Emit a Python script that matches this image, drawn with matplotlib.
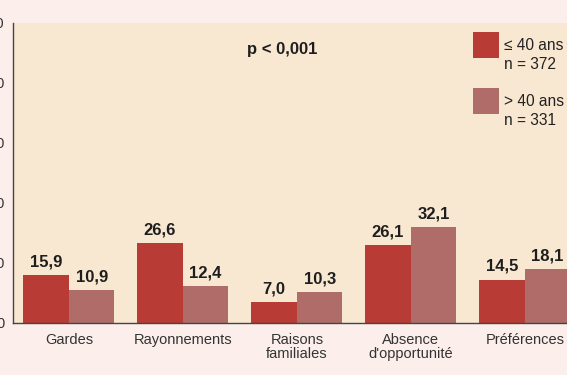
import numpy as np
import matplotlib
matplotlib.use('Agg')
import matplotlib.pyplot as plt
from matplotlib.patches import Rectangle

plt.rcParams['font.family'] = ['Liberation Sans', 'DejaVu Sans']

# chart data
categories = ['Gardes', 'Rayonnements', 'Raisons\nfamiliales',
              "Absence\nd'opportunité", 'Préférences']
young = [15.9, 26.6, 7.0, 26.1, 14.5]
old = [10.9, 12.4, 10.3, 32.1, 18.1]
legend_lines = [('≤ 40 ans', 'n = 372'), ('> 40 ans', 'n = 331')]
y_ticks = [0, 20, 40, 60, 80, 100]
p_text = 'p < 0,001'

COL_YOUNG = '#b93b35'
COL_OLD = '#b06c69'
BG_OUT = '#fcefeb'
BG_IN = '#f9e8d1'
INK = '#1e1e1e'

W, H = 567, 375
fig = plt.figure(figsize=(W / 100, H / 100), dpi=100)
fig.patch.set_facecolor(BG_OUT)


def fx(px):
    return px / W


def fy(py):
    # pixel row from the top -> figure fraction
    return 1 - py / H


# axes placed in pixels: left spine at x=13, baseline at y=323, top at y=23
ax = fig.add_axes([fx(13), fy(323), fx(W - 13), 300 / H])
ax.set_facecolor(BG_IN)

x = np.arange(len(categories))
bw = 0.4
b1 = ax.bar(x - bw / 2, young, bw, color=COL_YOUNG)
b2 = ax.bar(x + bw / 2, old, bw, color=COL_OLD)

for bars, vals in ((b1, young), (b2, old)):
    for rect, v in zip(bars, vals):
        ax.annotate(f'{v:.1f}'.replace('.', ','),
                    (rect.get_x() + rect.get_width() / 2, rect.get_height()),
                    xytext=(0, 4), textcoords='offset points',
                    ha='center', va='bottom', fontsize=12,
                    fontweight='bold', color=INK)

ax.set_xlim(-0.49, 4.37)
ax.set_ylim(0, 100)
ax.set_yticks(y_ticks)
ax.set_xticks(x)
ax.set_xticklabels(categories, fontsize=10.5, color='#333333', linespacing=1.05)
ax.tick_params(axis='x', length=0, pad=7)
ax.tick_params(axis='y', length=0, pad=6, labelsize=10.5, labelcolor='#333333')

for s in ('top', 'right'):
    ax.spines[s].set_visible(False)
for s in ('left', 'bottom'):
    ax.spines[s].set_color('#444444')
    ax.spines[s].set_linewidth(1.0)

ax.text(0.486, 0.912, p_text, transform=ax.transAxes, ha='center',
        va='center', fontsize=12, fontweight='bold', color=INK)

# legend, laid out by hand like the original (text runs off the right edge)
for i, (col, (l1, l2)) in enumerate(zip((COL_YOUNG, COL_OLD), legend_lines)):
    top = 32 + i * 56
    fig.add_artist(Rectangle((fx(473), fy(top + 26)), fx(26), 26 / H,
                             transform=fig.transFigure, color=col, lw=0))
    fig.text(fx(504), fy(top + 18), l1, fontsize=11.2, color='#222222',
             va='baseline', ha='left')
    fig.text(fx(504), fy(top + 37), l2, fontsize=11.2, color='#222222',
             va='baseline', ha='left')

fig.savefig('out.png', dpi=100, facecolor=BG_OUT)
